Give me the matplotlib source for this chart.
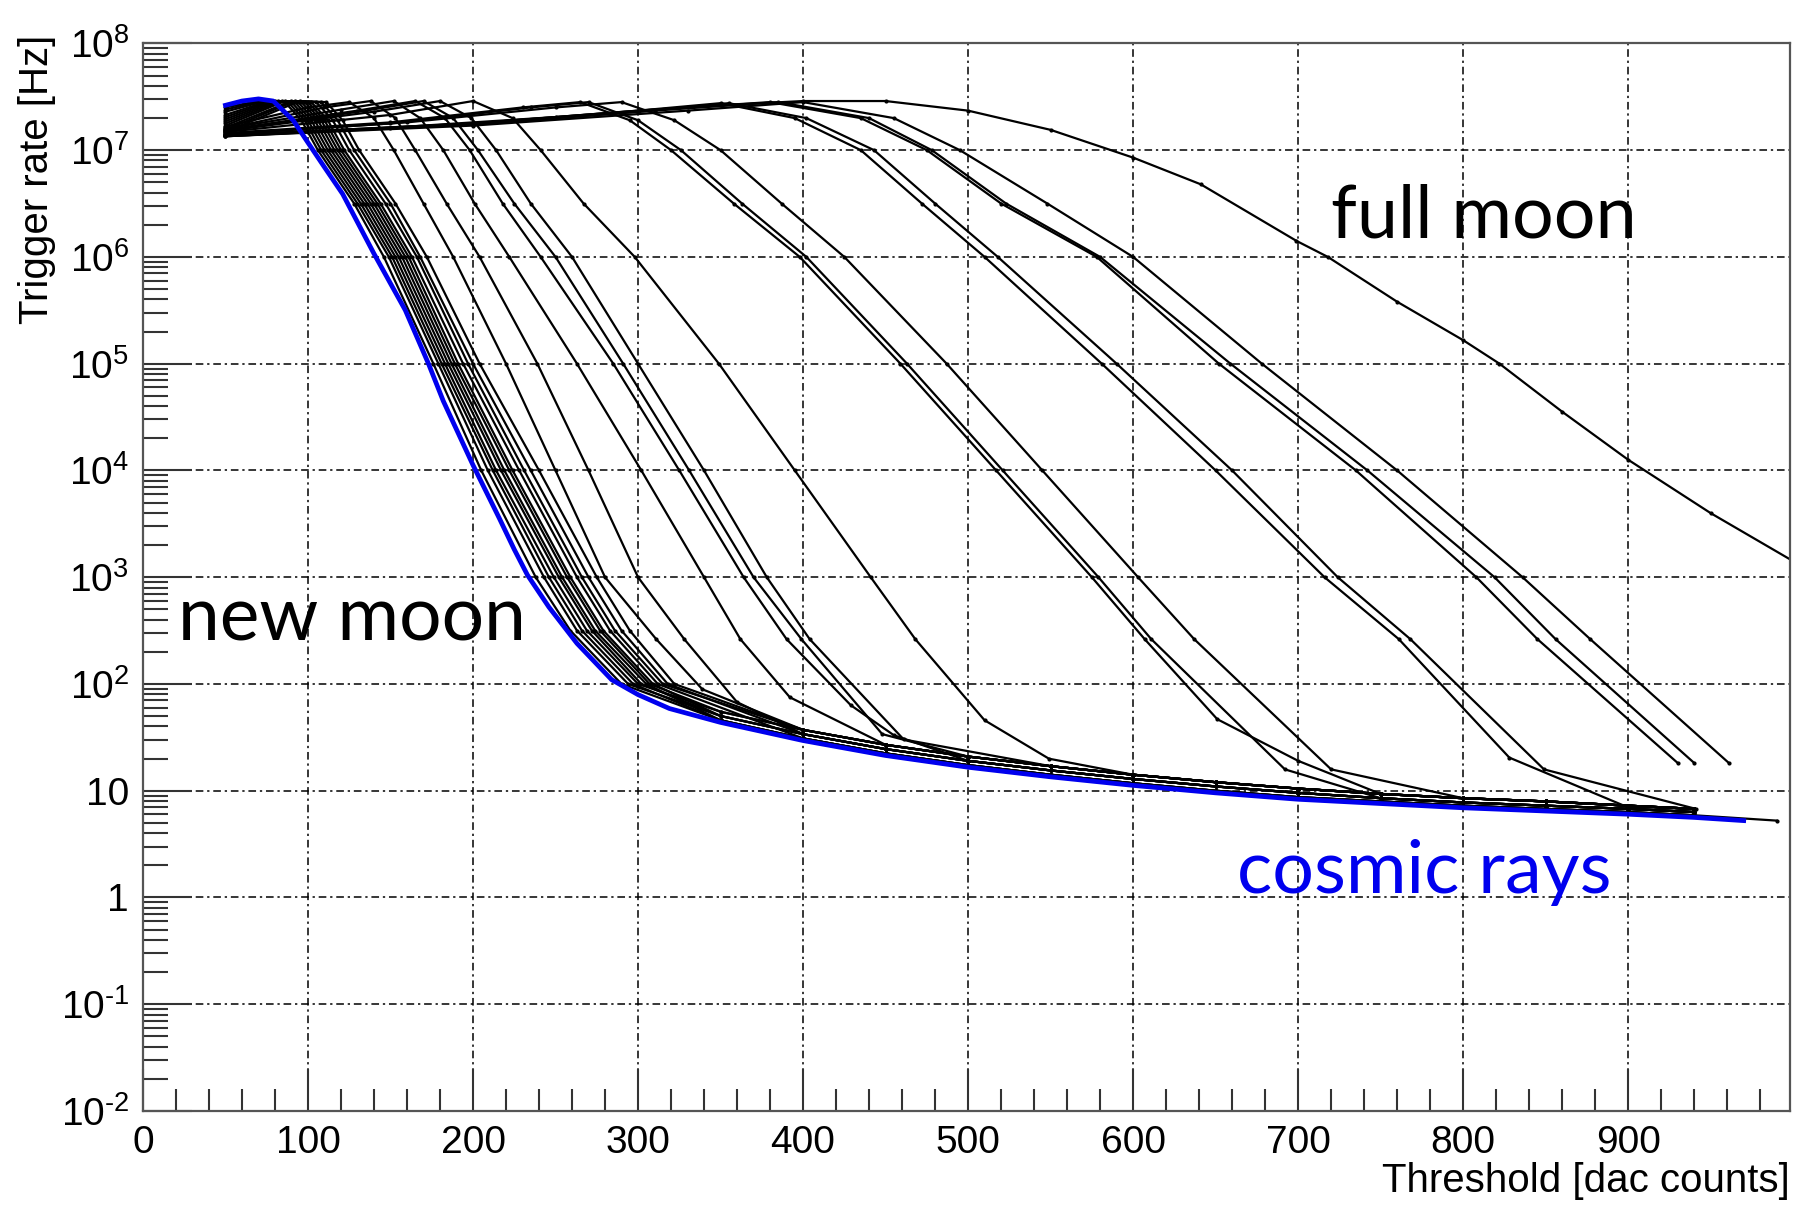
import numpy as np
import matplotlib
matplotlib.use("Agg")
from matplotlib import pyplot as plt
from matplotlib.ticker import FixedLocator, FixedFormatter, LogLocator, NullFormatter, MultipleLocator

plt.rcParams['font.family'] = ['Liberation Sans', 'DejaVu Sans']
plt.rcParams['mathtext.fontset'] = 'custom'
plt.rcParams['mathtext.rm'] = 'Liberation Sans'
plt.rcParams['mathtext.default'] = 'regular'

# threshold in dac counts, rates stored as log10(Hz)
blue_thr = [50, 60, 70, 79, 91, 100, 110, 121, 140, 159, 173, 182, 200, 216, 225, 233, 246, 263, 284,
            300, 319, 350, 400, 450, 500, 550, 600, 650, 700, 750, 800, 850, 900, 940, 970]
blue_log = [7.42, 7.46, 7.48, 7.46, 7.28, 7.07, 6.84, 6.59, 6.03, 5.5, 5.0, 4.65, 4.05, 3.55, 3.26, 3.02, 2.72, 2.38, 2.04,
            1.9, 1.77, 1.64, 1.47, 1.33, 1.22, 1.13, 1.05, 0.98, 0.92, 0.88, 0.84, 0.81, 0.78, 0.75, 0.72]

# cosmic ray floor the black curves run into
floor_thr = [300, 320, 350, 400, 450, 500, 550, 600, 650, 700, 750, 800, 850, 900, 940, 990]
floor_a = [1.92, 1.79, 1.66, 1.49, 1.35, 1.24, 1.15, 1.07, 1.00, 0.94, 0.90, 0.86, 0.83, 0.80, 0.77, 0.72]
floor_b = [1.96, 1.83, 1.70, 1.53, 1.39, 1.28, 1.19, 1.11, 1.04, 0.98, 0.93, 0.89, 0.86, 0.83, 0.80, 0.75]
floor_c = [2.00, 1.87, 1.74, 1.57, 1.43, 1.32, 1.23, 1.15, 1.08, 1.02, 0.97, 0.93, 0.90, 0.86, 0.83, 0.78]

# new moon bundle
bundle_thr = [
    [50, 70, 86, 96, 106, 128, 146, 176, 205, 238, 259, 290],
    [50, 72, 88, 98, 108, 130, 149, 179, 209, 243, 263, 294],
    [50, 74, 90, 100, 110, 132, 151, 181, 212, 246, 266, 297],
    [50, 76, 92, 102, 112, 134, 153, 183, 214, 249, 269, 300],
    [50, 78, 94, 104, 114, 136, 155, 185, 217, 252, 272, 302],
    [50, 80, 96, 106, 116, 138, 157, 187, 219, 254, 274, 305],
    [50, 82, 98, 108, 118, 140, 159, 189, 222, 257, 277, 307],
    [50, 84, 100, 110, 120, 142, 161, 191, 224, 259, 279, 309],
    [50, 86, 102, 112, 122, 144, 163, 194, 228, 263, 283, 312],
    [50, 90, 105, 115, 125, 147, 166, 197, 231, 266, 286, 315],
    [50, 92, 108, 118, 128, 150, 168, 200, 235, 270, 290, 318],
    [50, 95, 111, 121, 131, 153, 172, 204, 240, 275, 295, 322],
]
bundle_start = [7.40, 7.38, 7.36, 7.33, 7.31, 7.29, 7.27, 7.25, 7.23, 7.21, 7.19, 7.17]
bundle_log = [7.46, 7.45, 7.28, 7.0, 6.5, 6.0, 5.0, 4.0, 3.0, 2.5, 2.0]
bundle_floor = ['a', 'b', 'a', 'c', 'b', 'a', 'c', 'b', 'a', 'c', 'b', 'c']
bundle_end = [990, 940, 940, 940, 940, 940, 940, 940, 940, 940, 940, 940]

# curves for brighter nights
mid_thr = [
    [50, 100, 125, 140, 152, 170, 188, 220, 250, 280, 311, 339],
    [50, 110, 138, 153, 165, 184, 204, 239, 270, 300, 328, 360],
    [50, 120, 152, 168, 182, 201, 222, 263, 302, 340, 362, 392],
    [50, 130, 165, 183, 198, 218, 241, 285, 325, 364, 390, 429, 455],
    [50, 135, 170, 188, 203, 225, 250, 291, 331, 370, 399, 448],
    [50, 140, 180, 199, 214, 235, 260, 300, 340, 378, 404, 461],
    [50, 150, 200, 224, 241, 267, 298, 349, 395, 441, 468, 510, 549],
    [50, 150, 230, 265, 295, 320, 358, 398, 459, 517, 575, 607, 651, 700],
    [50, 150, 235, 270, 300, 326, 363, 402, 463, 521, 579, 611, 692],
    [50, 160, 250, 290, 322, 350, 387, 425, 487, 545, 603, 637, 720],
    [50, 200, 300, 350, 395, 435, 472, 510, 581, 650, 716, 761, 828, 899],
    [50, 200, 300, 355, 402, 443, 480, 518, 590, 660, 724, 768, 849, 941],
    [50, 200, 310, 380, 435, 475, 520, 578, 652, 735, 808, 845, 930],
    [50, 200, 310, 385, 440, 478, 523, 580, 659, 742, 819, 856, 940],
    [50, 200, 330, 400, 455, 495, 548, 600, 678, 760, 836, 877, 961],
]
mid_log = [
    [7.22, 7.40, 7.45, 7.3, 7.0, 6.5, 6.0, 5.0, 4.0, 3.0, 2.42, 1.95],
    [7.20, 7.40, 7.46, 7.3, 7.0, 6.5, 6.0, 5.0, 4.0, 3.0, 2.42, 1.83],
    [7.20, 7.38, 7.46, 7.3, 7.0, 6.5, 6.0, 5.0, 4.0, 3.0, 2.42, 1.875],
    [7.19, 7.37, 7.46, 7.3, 7.0, 6.5, 6.0, 5.0, 4.0, 3.0, 2.42, 1.8, 1.52],
    [7.18, 7.37, 7.46, 7.3, 7.0, 6.5, 6.0, 5.0, 4.0, 3.0, 2.42, 1.53],
    [7.18, 7.36, 7.46, 7.3, 7.0, 6.5, 6.0, 5.0, 4.0, 3.0, 2.42, 1.48],
    [7.17, 7.33, 7.46, 7.3, 7.0, 6.5, 6.0, 5.0, 4.0, 3.0, 2.42, 1.66, 1.3],
    [7.16, 7.26, 7.40, 7.45, 7.28, 7.0, 6.5, 6.0, 5.0, 4.0, 3.0, 2.42, 1.67, 1.28],
    [7.15, 7.25, 7.40, 7.45, 7.28, 7.0, 6.5, 6.0, 5.0, 4.0, 3.0, 2.42, 1.2],
    [7.15, 7.26, 7.40, 7.45, 7.28, 7.0, 6.5, 6.0, 5.0, 4.0, 3.0, 2.42, 1.2],
    [7.14, 7.25, 7.37, 7.44, 7.3, 7.0, 6.5, 6.0, 5.0, 4.0, 3.0, 2.42, 1.31, 0.85],
    [7.14, 7.24, 7.36, 7.44, 7.3, 7.0, 6.5, 6.0, 5.0, 4.0, 3.0, 2.42, 1.2, 0.83],
    [7.14, 7.25, 7.38, 7.45, 7.3, 7.0, 6.5, 6.0, 5.0, 4.0, 3.0, 2.42, 1.26],
    [7.13, 7.24, 7.37, 7.45, 7.3, 7.0, 6.5, 6.0, 5.0, 4.0, 3.0, 2.42, 1.26],
    [7.13, 7.23, 7.37, 7.45, 7.3, 7.0, 6.5, 6.0, 5.0, 4.0, 3.0, 2.42, 1.26],
]
mid_floor = ['c', 'b', 'c', 'b', 'c', 'c', 'c', 'c', 'b', 'c', 'c', None, None, None, None]

full_thr = [50, 100, 150, 200, 250, 300, 350, 400, 450, 500, 550, 600, 641, 699, 718, 760, 800, 822, 860, 900, 950, 1000]
full_log = [7.13, 7.17, 7.21, 7.26, 7.31, 7.37, 7.42, 7.46, 7.46, 7.37, 7.19, 6.93, 6.68, 6.15, 6.0, 5.58, 5.22, 5.0,
            4.55, 4.1, 3.6, 3.15]

ytick_vals = [1e-2, 1e-1, 1, 10, 1e2, 1e3, 1e4, 1e5, 1e6, 1e7, 1e8]
ytick_text = ['$10^{\u2010 2}$', '$10^{\u2010 1}$', '1', '10', r'$10^{2}$', r'$10^{3}$', r'$10^{4}$', r'$10^{5}$',
              r'$10^{6}$', r'$10^{7}$', r'$10^{8}$']
xtick_vals = [0, 100, 200, 300, 400, 500, 600, 700, 800, 900]

floors = {'a': floor_a, 'b': floor_b, 'c': floor_c}


def trace(thr, lg, fl, end):
    xs, ys = list(thr), list(lg)
    if fl is not None:
        for fx, fy in zip(floor_thr, floors[fl]):
            if xs[-1] + 40 <= fx <= end:
                xs.append(fx)
                ys.append(fy)
    return np.array(xs), 10 ** np.array(ys)


fig = plt.figure(figsize=(17.96, 12.05), dpi=100)
ax = fig.add_axes([0.0796, 0.078, 0.917, 0.886])
ax.set_yscale('log')

kw = dict(color='black', lw=1.6, marker='.', ms=4)
for i in range(len(bundle_thr)):
    x, y = trace(bundle_thr[i], [bundle_start[i]] + bundle_log, bundle_floor[i], bundle_end[i])
    ax.plot(x, y, **kw)
for i in range(len(mid_thr)):
    x, y = trace(mid_thr[i], mid_log[i], mid_floor[i], 940)
    ax.plot(x, y, **kw)
x, y = trace(full_thr, full_log, None, 1000)
ax.plot(x, y, **kw)
ax.plot(blue_thr, 10 ** np.array(blue_log), color='#0000ee', lw=3.4, zorder=5)

ax.set_xlim(0, 998)
ax.set_ylim(1e-2, 1e8)

ax.grid(True, which='major', color='black', lw=1.1, linestyle=(0, (5, 2.5, 1.5, 2.5)))
ax.set_axisbelow(True)

ax.xaxis.set_major_locator(FixedLocator(xtick_vals))
ax.xaxis.set_minor_locator(MultipleLocator(20))
ax.yaxis.set_major_locator(FixedLocator(ytick_vals))
ax.yaxis.set_major_formatter(FixedFormatter(ytick_text))
ax.yaxis.set_minor_locator(LogLocator(base=10, subs=np.arange(2, 10), numticks=100))
ax.yaxis.set_minor_formatter(NullFormatter())

ax.tick_params(axis='both', which='both', direction='in', top=False, right=False,
               labelsize=28, color='#333333', width=1.5)
ax.tick_params(axis='x', which='major', length=30, pad=10)
ax.tick_params(axis='x', which='minor', length=16)
ax.tick_params(axis='y', which='major', length=35, pad=10)
ax.tick_params(axis='y', which='minor', length=18)
for s in ax.spines.values():
    s.set_color('#555555')
    s.set_linewidth(1.6)

ax.set_xlabel('Threshold [dac counts]', fontsize=29, loc='right', va='center')
ax.xaxis.set_label_coords(1.0, -0.066)
ax.set_ylabel('Trigger rate [Hz]', fontsize=29, loc='top')
ax.yaxis.set_label_coords(-0.053, 1.008)

ax.text(720, 10 ** 6.37, 'full moon', fontsize=53, family='Lato', ha='left', va='center')
ax.text(21, 10 ** 2.61, 'new moon', fontsize=54, family='Lato', ha='left', va='center')
ax.text(663, 10 ** 0.23, 'cosmic rays', fontsize=53, family='Lato', ha='left', va='center', color='#0000ee')

fig.savefig('out.png', dpi=100)
